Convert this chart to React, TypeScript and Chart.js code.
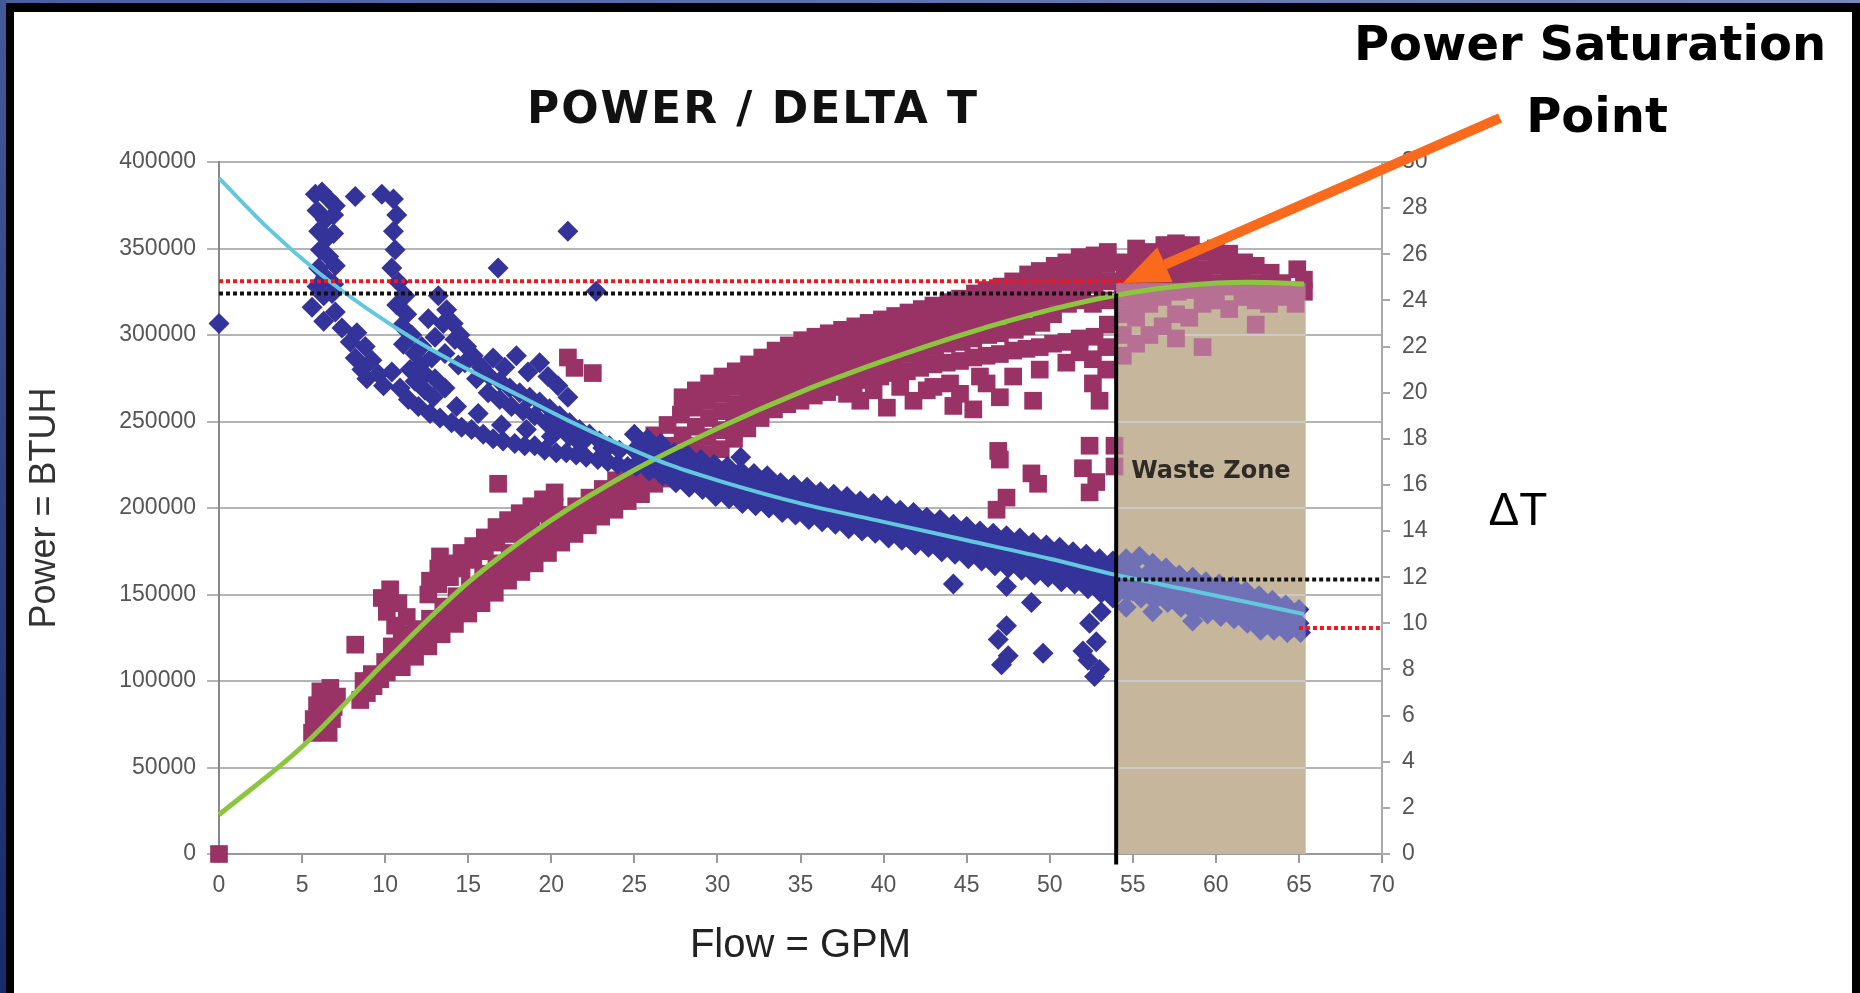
import React, { useEffect, useRef } from "react";
import { Chart, registerables } from "chart.js";

Chart.register(...registerables);

// ---------- tick labels ----------
const flowTicks = [0, 5, 10, 15, 20, 25, 30, 35, 40, 45, 50, 55, 60, 65, 70];
const powerTicks = [0, 50000, 100000, 150000, 200000, 250000, 300000, 350000, 400000];
const deltaTTicks = [0, 2, 4, 6, 8, 10, 12, 14, 16, 18, 20, 22, 24, 26, 28, 30];

// ---------- ΔT measurements (flow GPM, ΔT) ----------
const deltaTPoints = [
  [0, 23.0],
  [5.8, 28.6], [6.2, 28.7], [6.6, 28.4], [7.0, 28.1], [5.9, 27.9], [6.4, 27.5], [6.9, 27.7],
  [6.0, 27.0], [6.5, 26.7], [6.9, 26.9], [6.1, 26.2], [6.6, 25.9], [7.0, 25.5], [6.0, 25.4],
  [6.4, 25.0], [6.9, 24.7], [5.9, 24.6], [6.3, 24.2], [6.8, 24.3], [5.6, 23.7], [6.3, 23.1], [7.0, 23.5],
  [7.4, 22.8], [7.9, 22.2], [8.2, 21.5], [8.6, 21.0], [8.9, 20.6], [8.3, 22.6], [8.8, 22.0], [9.2, 21.4], [9.6, 20.8],
  [8.2, 28.5], [9.8, 28.6], [10.5, 28.4], [10.7, 27.7], [10.5, 27.0], [10.6, 26.2], [10.4, 25.4], [10.8, 24.8],
  [11.2, 24.2], [10.7, 23.8], [11.3, 23.4], [11.0, 22.9], [11.6, 22.5], [11.1, 22.1], [11.8, 21.7], [12.1, 21.2], [12.4, 20.8],
  [11.5, 21.0], [12.2, 22.0], [12.8, 21.5], [12.4, 20.1], [13.0, 20.6], [13.6, 20.2], [11.8, 20.5],
  [9.9, 20.3], [10.4, 20.9], [10.9, 20.2], [11.4, 19.7], [12.0, 19.4], [12.7, 19.1], [13.3, 18.9], [14.0, 18.7],
  [14.6, 18.5], [15.2, 18.4], [15.9, 18.2], [16.5, 18.0], [17.1, 17.9], [17.8, 17.8], [18.4, 17.7], [19.0, 17.7],
  [19.6, 17.5], [20.3, 17.4], [20.9, 17.4], [21.5, 17.3], [22.1, 17.2], [22.8, 17.1], [23.4, 17.0], [24.0, 16.9], [24.6, 16.8],
  [12.9, 19.8], [14.3, 19.4], [15.6, 19.1], [17.0, 18.6], [18.5, 18.4], [20.0, 18.1], [21.6, 17.9], [23.1, 17.6],
  [13.2, 24.2], [13.7, 23.6], [14.1, 23.0], [14.5, 22.5], [14.9, 22.0], [15.3, 21.6], [15.8, 21.1], [16.3, 20.7],
  [16.9, 20.5], [17.5, 20.2], [18.1, 20.0], [18.7, 19.8], [19.3, 19.6], [19.9, 19.3], [20.5, 19.0], [21.1, 18.7],
  [21.7, 18.4], [22.3, 18.2], [22.9, 17.9], [23.5, 17.7], [24.1, 17.5],
  [13.5, 23.0], [14.2, 22.3], [14.8, 21.3], [15.5, 20.6], [16.2, 20.0], [16.9, 19.7], [17.6, 19.4], [18.3, 19.2],
  [19.0, 19.0], [19.7, 18.7], [20.4, 18.4], [21.1, 18.1], [21.8, 17.8],
  [17.9, 21.6], [19.3, 21.3], [19.8, 20.7], [18.6, 20.9], [16.5, 21.5], [12.6, 23.2], [13.0, 22.4], [13.6, 21.7], [14.4, 21.2],
  [20.4, 20.3], [21.0, 19.8], [17.2, 21.1],
  [16.8, 25.4], [21.0, 27.0], [22.7, 24.4],
  [25.0, 18.2], [25.0, 17.5], [25.1, 16.8], [25.8, 18.0], [25.8, 17.3], [25.9, 16.6],
  [26.6, 17.8], [26.5, 17.0], [26.7, 16.4], [27.4, 17.4], [27.3, 16.8], [27.5, 16.1],
  [28.2, 17.3], [28.1, 16.5], [28.3, 15.9], [29.0, 17.1], [29.0, 16.4], [29.1, 15.8],
  [29.8, 16.9], [29.8, 16.2], [29.9, 15.5], [30.6, 16.8], [30.6, 16.0], [30.7, 15.4],
  [31.4, 17.2], [31.4, 16.6], [31.4, 15.9], [31.5, 15.2], [32.2, 16.5], [32.2, 15.8], [32.3, 15.1],
  [33.0, 16.4], [33.0, 15.6], [33.1, 15.0], [33.8, 16.1], [33.8, 15.5], [33.9, 14.8],
  [34.6, 16.0], [34.6, 15.3], [34.7, 14.7], [35.4, 15.9], [35.4, 15.1], [35.5, 14.5],
  [36.2, 15.7], [36.2, 15.0], [36.3, 14.4], [37.0, 15.6], [37.0, 14.9], [37.1, 14.3],
  [37.8, 15.5], [37.8, 14.8], [37.9, 14.1], [38.6, 15.3], [38.6, 14.6], [38.7, 14.0],
  [39.4, 15.2], [39.4, 14.5], [39.5, 13.9], [40.2, 15.1], [40.2, 14.4], [40.3, 13.7],
  [41.0, 14.9], [41.0, 14.2], [41.1, 13.6], [41.8, 14.8], [41.8, 14.1], [41.9, 13.4],
  [42.6, 14.6], [42.6, 13.9], [42.7, 13.3], [43.4, 14.5], [43.4, 13.8], [43.5, 13.1],
  [44.2, 14.3], [44.2, 13.6], [44.3, 13.0], [45.0, 14.2], [45.0, 13.5], [45.1, 12.8],
  [45.8, 14.0], [45.8, 13.3], [45.9, 12.7], [46.6, 13.9], [46.6, 13.2], [46.7, 12.5],
  [47.4, 13.8], [47.4, 13.1], [47.5, 12.4], [48.2, 13.7], [48.2, 13.0], [48.3, 12.3],
  [49.0, 13.5], [49.0, 12.8], [49.1, 12.1], [49.8, 13.4], [49.8, 12.7], [49.9, 12.0],
  [50.6, 13.3], [50.6, 12.5], [50.7, 11.8], [51.4, 13.1], [51.4, 12.4], [51.5, 11.7],
  [52.2, 13.0], [52.2, 12.2], [52.3, 11.5], [53.0, 12.8], [53.0, 12.1], [53.1, 11.3],
  [53.8, 12.7], [53.8, 11.9], [53.8, 11.1],
  [54.6, 12.8], [54.6, 12.0], [54.7, 11.3], [54.6, 10.7], [55.4, 12.9], [55.4, 11.9], [55.5, 11.1],
  [56.2, 12.6], [56.2, 11.7], [56.3, 11.0], [56.2, 10.5], [57.0, 12.4], [57.0, 11.6], [57.1, 10.9],
  [57.8, 12.1], [57.8, 11.4], [57.9, 10.7], [58.6, 12.0], [58.6, 11.2], [58.7, 10.5], [58.6, 10.1],
  [59.4, 11.8], [59.4, 11.1], [59.5, 10.4], [60.2, 11.7], [60.2, 11.0], [60.3, 10.3],
  [61.0, 11.6], [61.0, 10.8], [61.1, 10.2], [61.8, 11.4], [61.8, 10.7], [61.9, 10.0],
  [62.6, 11.2], [62.6, 10.5], [62.7, 9.7], [63.4, 11.0], [63.4, 10.3], [63.5, 9.7],
  [64.2, 10.8], [64.2, 10.1], [64.3, 9.6], [65.0, 10.6], [65.0, 10.0], [65.1, 9.6],
  [25.4, 17.8], [25.4, 17.1], [26.2, 17.6], [26.2, 16.9], [27.0, 17.4], [27.0, 16.6], [27.8, 17.1], [27.8, 16.3],
  [28.6, 16.9], [28.6, 16.2], [29.4, 16.7], [29.4, 16.0], [30.2, 16.5], [30.2, 15.8], [31.0, 16.4], [31.0, 15.6],
  [31.8, 16.2], [31.8, 15.5], [32.6, 16.1], [32.6, 15.4], [33.4, 15.9], [33.4, 15.2], [34.2, 15.8], [34.2, 15.0],
  [35.0, 15.6], [35.0, 14.9], [35.8, 15.5], [35.8, 14.8], [36.6, 15.4], [36.6, 14.6], [37.4, 15.2], [37.4, 14.5],
  [38.2, 15.1], [38.2, 14.4], [39.0, 14.9], [39.0, 14.2], [39.8, 14.8], [39.8, 14.1], [40.6, 14.7], [40.6, 14.0],
  [41.4, 14.5], [41.4, 13.8], [42.2, 14.4], [42.2, 13.7], [43.0, 14.2], [43.0, 13.5], [43.8, 14.1], [43.8, 13.4],
  [44.6, 14.0], [44.6, 13.2], [45.4, 13.8], [45.4, 13.1], [46.2, 13.7], [46.2, 12.9], [47.0, 13.5], [47.0, 12.8],
  [47.8, 13.4], [47.8, 12.7], [48.6, 13.3], [48.6, 12.5], [49.4, 13.1], [49.4, 12.4], [50.2, 13.0], [50.2, 12.3],
  [51.0, 12.8], [51.0, 12.1], [51.8, 12.7], [51.8, 12.0], [52.6, 12.6], [52.6, 11.8], [53.4, 12.4], [53.4, 11.7],
  [54.2, 12.3], [54.2, 11.5], [55.0, 12.3], [55.0, 11.4], [55.8, 12.1], [55.8, 11.3], [56.6, 12.0], [56.6, 11.2],
  [57.4, 11.9], [57.4, 11.1], [58.2, 11.7], [58.2, 10.9], [59.0, 11.5], [59.0, 10.8], [59.8, 11.4], [59.8, 10.7],
  [60.6, 11.3], [60.6, 10.6], [61.4, 11.1], [61.4, 10.4], [62.2, 10.9], [62.2, 10.2], [63.0, 10.8], [63.0, 10.1],
  [63.8, 10.6], [63.8, 9.9], [64.6, 10.4], [64.6, 9.8],
  [44.2, 11.7], [47.4, 11.6], [48.9, 10.9], [47.4, 9.9], [46.9, 9.3], [47.5, 8.6], [47.1, 8.2], [49.6, 8.7],
  [52.4, 10.0], [52.8, 9.2], [52.3, 8.4], [53.0, 8.0], [52.7, 7.7], [52.0, 8.8], [53.1, 10.5],
];

// ---------- Power measurements (flow GPM, BTUH) ----------
const powerPoints = [
  [0, 0],
  [5.6, 70000], [6.1, 72000], [6.6, 70000], [5.7, 78000], [6.2, 80000], [6.8, 78000], [5.9, 86000], [6.4, 88000],
  [6.9, 85000], [6.1, 94000], [6.7, 96000], [7.1, 91000],
  [8.2, 121000], [8.5, 89000], [8.9, 93000], [9.3, 97000], [9.7, 101000], [8.7, 100000], [9.2, 104000], [10.1, 105000],
  [9.8, 148000], [10.3, 153000], [10.1, 140000], [10.8, 145000], [10.6, 132000], [11.1, 127000], [10.4, 120000],
  [11.0, 114000], [11.5, 118000], [10.0, 111000], [11.3, 137000],
  [11.0, 108000], [11.1, 116000], [11.0, 124000], [11.8, 114000], [11.8, 122000], [11.9, 130000],
  [12.6, 120000], [12.6, 128000], [12.7, 136000], [13.4, 127000], [13.4, 135000], [13.5, 143000],
  [14.2, 133000], [14.2, 141000], [14.3, 149000], [15.0, 139000], [15.0, 147000], [15.1, 155000],
  [15.8, 145000], [15.8, 153000], [15.9, 162000], [16.6, 151000], [16.6, 160000], [16.7, 168000],
  [17.4, 158000], [17.4, 166000], [17.5, 174000], [18.2, 163000], [18.2, 171000], [18.3, 180000],
  [19.0, 168000], [19.0, 177000], [19.1, 185000], [19.8, 174000], [19.8, 182000], [19.9, 191000],
  [20.6, 180000], [20.6, 188000], [20.7, 196000], [21.4, 185000], [21.4, 193000], [21.5, 201000],
  [22.2, 190000], [22.2, 198000], [22.3, 206000], [23.0, 195000], [23.0, 203000], [23.1, 211000],
  [23.8, 199000], [23.8, 207000], [23.9, 216000], [24.6, 204000], [24.6, 212000], [24.7, 221000],
  [25.4, 208000], [25.4, 216000], [25.5, 225000],
  [12.6, 150000], [12.7, 158000], [13.2, 156000], [13.2, 165000], [13.3, 172000], [13.9, 160000], [13.9, 168000],
  [14.6, 165000], [14.6, 174000], [15.3, 170000], [15.3, 178000], [16.0, 175000], [16.0, 183000],
  [16.7, 180000], [16.7, 189000], [17.4, 185000], [17.4, 193000], [18.1, 189000], [18.1, 197000],
  [18.8, 193000], [18.8, 201000], [19.5, 197000], [19.5, 205000], [20.2, 201000], [20.2, 209000],
  [16.8, 214000], [21.0, 287000], [21.4, 281000], [22.5, 278000],
  [26.2, 214000], [26.2, 222000], [26.3, 231000], [26.2, 242000],
  [27.0, 217000], [27.0, 226000], [27.1, 236000], [27.0, 248000],
  [27.8, 221000], [27.8, 231000], [27.9, 242000], [27.8, 254000], [27.9, 264000],
  [28.6, 226000], [28.6, 236000], [28.7, 247000], [28.6, 258000], [28.7, 268000],
  [29.4, 231000], [29.4, 241000], [29.5, 252000], [29.4, 262000], [29.5, 272000],
  [30.2, 234000], [30.2, 245000], [30.3, 256000], [30.2, 266000], [30.3, 276000],
  [31.0, 240000], [31.0, 250000], [31.1, 260000], [31.0, 270000], [31.1, 279000],
  [31.8, 246000], [31.8, 256000], [31.9, 265000], [31.8, 274000], [31.9, 283000],
  [32.6, 252000], [32.6, 261000], [32.7, 270000], [32.6, 279000], [32.7, 287000],
  [33.4, 257000], [33.4, 266000], [33.5, 275000], [33.4, 283000], [33.5, 291000],
  [34.2, 260000], [34.2, 269000], [34.3, 278000], [34.2, 287000], [34.3, 294000],
  [35.0, 262000], [35.0, 272000], [35.1, 281000], [35.0, 290000], [35.1, 297000],
  [35.8, 265000], [35.8, 275000], [35.9, 284000], [35.8, 292000], [35.9, 299000],
  [36.6, 267000], [36.6, 277000], [36.7, 286000], [36.6, 294000], [36.7, 301000],
  [37.4, 270000], [37.4, 279000], [37.5, 288000], [37.4, 296000], [37.5, 303000],
  [38.2, 272000], [38.2, 281000], [38.3, 290000], [38.2, 298000], [38.3, 305000],
  [39.0, 274000], [39.0, 283000], [39.1, 292000], [39.0, 300000], [39.1, 307000],
  [39.8, 276000], [39.8, 285000], [39.9, 294000], [39.8, 302000], [39.9, 309000],
  [40.6, 278000], [40.6, 287000], [40.7, 296000], [40.6, 304000], [40.7, 311000],
  [41.4, 279000], [41.4, 289000], [41.5, 298000], [41.4, 306000], [41.5, 313000],
  [42.2, 281000], [42.2, 291000], [42.3, 300000], [42.2, 308000], [42.3, 315000],
  [43.0, 270000], [43.0, 283000], [43.1, 293000], [43.0, 302000], [43.1, 310000], [43.0, 317000],
  [43.8, 284000], [43.8, 295000], [43.9, 304000], [43.8, 312000], [43.9, 319000],
  [44.6, 266000], [44.6, 285000], [44.7, 296000], [44.6, 306000], [44.7, 314000], [44.6, 321000],
  [45.4, 287000], [45.4, 298000], [45.5, 308000], [45.4, 316000], [45.5, 324000],
  [46.2, 272000], [46.2, 288000], [46.3, 300000], [46.2, 310000], [46.3, 318000], [46.2, 326000],
  [47.0, 289000], [47.0, 301000], [47.1, 312000], [47.0, 320000], [47.1, 328000],
  [47.8, 276000], [47.8, 291000], [47.9, 303000], [47.8, 314000], [47.9, 323000], [47.8, 331000],
  [48.6, 292000], [48.6, 305000], [48.7, 316000], [48.6, 326000], [48.7, 335000],
  [49.4, 280000], [49.4, 293000], [49.5, 307000], [49.4, 318000], [49.5, 328000], [49.4, 337000],
  [50.2, 295000], [50.2, 312000], [50.3, 322000], [50.2, 331000], [50.3, 340000],
  [51.0, 284000], [51.0, 296000], [51.1, 318000], [51.0, 328000], [51.1, 335000], [51.0, 342000],
  [51.8, 290000], [51.8, 298000], [51.9, 320000], [51.8, 330000], [51.9, 338000], [51.8, 345000],
  [52.6, 272000], [52.6, 286000], [52.7, 299000], [52.6, 318000], [52.7, 329000], [52.6, 339000], [52.7, 346000],
  [53.4, 280000], [53.4, 293000], [53.5, 306000], [53.4, 320000], [53.5, 331000], [53.4, 341000], [53.5, 348000],
  [36.2, 268000], [37.8, 266000], [39.4, 268000], [41.0, 270000], [42.6, 268000], [44.0, 272000], [45.8, 276000],
  [38.6, 262000], [41.8, 262000], [40.2, 258000],
  [46.9, 233000], [47.4, 206000], [49.3, 214000], [52.4, 236000], [52.0, 223000], [52.4, 209000], [46.8, 199000],
  [45.4, 257000], [47.0, 228000], [48.9, 220000], [53.0, 262000], [52.8, 215000], [47.0, 264000], [49.0, 262000],
  [44.2, 259000], [53.9, 236000], [53.9, 224000],
  [54.4, 288000], [54.4, 300000], [54.5, 312000], [54.4, 322000], [54.5, 332000], [54.4, 342000],
  [55.2, 295000], [55.2, 310000], [55.3, 320000], [55.2, 330000], [55.3, 340000], [55.2, 350000],
  [56.0, 300000], [56.0, 318000], [56.1, 328000], [56.0, 338000], [56.1, 348000],
  [56.8, 305000], [56.8, 322000], [56.9, 333000], [56.8, 343000], [56.9, 352000],
  [57.6, 298000], [57.6, 312000], [57.7, 325000], [57.6, 335000], [57.7, 345000], [57.6, 353000],
  [58.4, 310000], [58.4, 326000], [58.5, 336000], [58.4, 346000], [58.5, 352000],
  [59.2, 293000], [59.2, 318000], [59.3, 328000], [59.2, 338000], [59.3, 348000],
  [60.0, 320000], [60.0, 330000], [60.1, 340000], [60.0, 350000],
  [60.8, 315000], [60.8, 328000], [60.9, 338000], [60.8, 347000],
  [61.6, 322000], [61.6, 332000], [61.7, 342000],
  [62.4, 306000], [62.4, 320000], [62.5, 330000], [62.4, 340000],
  [63.2, 318000], [63.2, 327000], [63.3, 336000],
  [64.0, 322000], [64.0, 330000],
  [64.8, 318000], [64.8, 326000], [64.9, 338000],
  [65.3, 325000], [65.3, 332000],
];

// ---------- trend lines ----------
const deltaTTrendFlow = [0, 3, 6, 9, 12, 15, 18, 21, 24, 27, 30, 35, 40, 45, 50, 54, 58, 62, 65.3];
const deltaTTrendValues = [29.3, 27.1, 25.2, 23.6, 22.2, 21.0, 19.9, 18.8, 17.8, 16.9, 16.2, 15.2, 14.4, 13.6, 12.8, 12.1, 11.5, 10.9, 10.4];
const powerTrendFlow = [0, 5, 10, 15, 20, 25, 30, 35, 40, 45, 50, 54, 58, 62, 65.3];
const powerTrendValues = [22700, 62000, 111000, 157000, 193000, 222000, 246000, 267000, 285000, 301000, 314500, 323000, 328500, 330500, 329500];

// ---------- reference / marker lines ----------
const saturationRedFlow = [0, 55.5];
const saturationRedPower = [331000, 331000];
const saturationBlackFlow = [0, 54];
const saturationBlackPower = [324000, 324000];
const wasteBlackFlow = [54, 70];
const wasteBlackDeltaT = [11.9, 11.9];
const wasteRedFlow = [65, 70];
const wasteRedDeltaT = [9.8, 9.8];
const markerFlow = [54, 54];
const markerPower = [-6000, 324000];

const wasteZoneFlow = [54, 65.4];
const wasteZonePower = [0, 330000];
const arrowTip = [54.4, 330000];

const toXY = (xs: number[], ys: number[]) => xs.map((x, i) => ({ x, y: ys[i] }));
const pairs = (p: number[][]) => p.map(([x, y]) => ({ x, y }));

const SANS = '"Liberation Sans", Arial, sans-serif';
const WIDE = '"DejaVu Sans", sans-serif';

export default function App() {
  const ref = useRef<HTMLCanvasElement>(null);

  useEffect(() => {
    document.body.style.margin = "0";
    const canvas = ref.current;
    if (!canvas) return;

    const datasets: any[] = [
      { label: "Power trend", data: toXY(powerTrendFlow, powerTrendValues), yAxisID: "y", showLine: true,
        borderColor: "#8cc63f", borderWidth: 5, pointRadius: 0, cubicInterpolationMode: "monotone", order: 2, clip: false },
      { label: "ΔT trend", data: toXY(deltaTTrendFlow, deltaTTrendValues), yAxisID: "y1", showLine: true,
        borderColor: "#63c8de", borderWidth: 4, pointRadius: 0, cubicInterpolationMode: "monotone", order: 1, clip: false },
      { label: "sat red", data: toXY(saturationRedFlow, saturationRedPower), yAxisID: "y", showLine: true,
        borderColor: "#f0161c", borderWidth: 4, borderDash: [4, 3], pointRadius: 0, order: 0, clip: false },
      { label: "sat black", data: toXY(saturationBlackFlow, saturationBlackPower), yAxisID: "y", showLine: true,
        borderColor: "#111", borderWidth: 4, borderDash: [4, 3], pointRadius: 0, order: 0, clip: false },
      { label: "waste black", data: toXY(wasteBlackFlow, wasteBlackDeltaT), yAxisID: "y1", showLine: true,
        borderColor: "#111", borderWidth: 4, borderDash: [4, 3], pointRadius: 0, order: 0, clip: false },
      { label: "waste red", data: toXY(wasteRedFlow, wasteRedDeltaT), yAxisID: "y1", showLine: true,
        borderColor: "#f0161c", borderWidth: 4, borderDash: [4, 3], pointRadius: 0, order: 0, clip: false },
      { label: "marker", data: toXY(markerFlow, markerPower), yAxisID: "y", showLine: true,
        borderColor: "#000", borderWidth: 4, pointRadius: 0, order: 0, clip: false },
      { label: "ΔT", data: pairs(deltaTPoints), yAxisID: "y1", pointStyle: "rectRot", pointRadius: 10.5,
        backgroundColor: "#333399", borderWidth: 0, order: 10, clip: false },
      { label: "Power", data: pairs(powerPoints), yAxisID: "y", pointStyle: "rect", pointRadius: 12.5,
        backgroundColor: "#993366", borderWidth: 0, order: 11, clip: false },
    ];
    const DIAMOND_INDEX = 7;

    const decor = {
      id: "decor",
      beforeDraw(chart: any) {
        const { ctx, width, height } = chart;
        ctx.save();
        ctx.fillStyle = "#000";
        ctx.fillRect(0, 0, width, height);
        const g1 = ctx.createLinearGradient(0, 0, width, 0);
        g1.addColorStop(0, "#4b5f9e");
        g1.addColorStop(1, "#7888ba");
        ctx.fillStyle = g1;
        ctx.fillRect(0, 0, width, 3);
        const g2 = ctx.createLinearGradient(0, 0, 0, height);
        g2.addColorStop(0, "#43599a");
        g2.addColorStop(1, "#172a6b");
        ctx.fillStyle = g2;
        ctx.fillRect(0, 0, 6, height);
        ctx.fillStyle = "#ffffff";
        ctx.fillRect(14, 12, 1852 - 14, height - 12);
        const xs = chart.scales.x, ys = chart.scales.y;
        const x0 = xs.getPixelForValue(wasteZoneFlow[0]);
        const x1 = xs.getPixelForValue(wasteZoneFlow[1]);
        const yb = ys.getPixelForValue(wasteZonePower[0]);
        const yt = ys.getPixelForValue(wasteZonePower[1]);
        ctx.fillStyle = "#ac9772";
        ctx.fillRect(x0, yt, x1 - x0, yb - yt);
        ctx.restore();
      },
      afterDatasetDraw(chart: any, args: any) {
        if (args.index !== DIAMOND_INDEX) return;
        const { ctx } = chart;
        const xs = chart.scales.x, ys = chart.scales.y;
        const x0 = xs.getPixelForValue(wasteZoneFlow[0]);
        const x1 = xs.getPixelForValue(wasteZoneFlow[1]);
        const yb = ys.getPixelForValue(wasteZonePower[0]);
        const yt = ys.getPixelForValue(wasteZonePower[1]);
        ctx.save();
        ctx.fillStyle = "rgba(255,255,255,0.3)";
        ctx.fillRect(x0, yt, x1 - x0, yb - yt);
        ctx.restore();
      },
      afterDraw(chart: any) {
        const { ctx } = chart;
        const xs = chart.scales.x, ys = chart.scales.y;
        ctx.save();
        ctx.fillStyle = "#111";
        ctx.textAlign = "center";
        ctx.textBaseline = "alphabetic";
        ctx.font = `bold 44px ${WIDE}`;
        try { (ctx as any).letterSpacing = "2px"; } catch (e) {}
        ctx.fillText("POWER / DELTA T", 753, 123);
        try { (ctx as any).letterSpacing = "0px"; } catch (e) {}
        ctx.fillStyle = "#000";
        ctx.font = `bold 48px ${WIDE}`;
        ctx.fillText("Power Saturation", 1590, 60);
        ctx.fillText("Point", 1597, 132);
        ctx.font = `46px ${SANS}`;
        ctx.fillText("ΔT", 1518, 525);
        ctx.fillStyle = "#2e2a26";
        ctx.font = `bold 24px ${WIDE}`;
        ctx.textBaseline = "middle";
        const zx = (xs.getPixelForValue(wasteZoneFlow[0]) + xs.getPixelForValue(wasteZoneFlow[1])) / 2;
        ctx.fillText("Waste Zone", zx, ys.getPixelForValue(221000));
        const tipX = xs.getPixelForValue(arrowTip[0]);
        const tipY = ys.getPixelForValue(arrowTip[1]);
        const tailX = 1500, tailY = 118;
        const ang = Math.atan2(tipY - tailY, tipX - tailX);
        const headLen = 46, headW = 19;
        const bx = tipX - headLen * Math.cos(ang);
        const by = tipY - headLen * Math.sin(ang);
        ctx.strokeStyle = "#fa6a1c";
        ctx.fillStyle = "#fa6a1c";
        ctx.lineWidth = 10;
        ctx.beginPath();
        ctx.moveTo(tailX, tailY);
        ctx.lineTo(bx, by);
        ctx.stroke();
        ctx.beginPath();
        ctx.moveTo(tipX, tipY);
        ctx.lineTo(bx + headW * Math.sin(ang), by - headW * Math.cos(ang));
        ctx.lineTo(bx - headW * Math.sin(ang), by + headW * Math.cos(ang));
        ctx.closePath();
        ctx.fill();
        ctx.restore();
      },
    };

    const tickFont = { family: SANS, size: 23 };
    const chart = new Chart(canvas, {
      type: "scatter",
      data: { datasets },
      options: {
        responsive: false,
        animation: false,
        events: [],
        devicePixelRatio: 1,
        layout: { padding: { top: 162, left: 0, right: 0, bottom: 0 } },
        plugins: { legend: { display: false }, tooltip: { enabled: false } },
        scales: {
          x: {
            type: "linear", min: 0, max: 70,
            afterBuildTicks: (s: any) => { s.ticks = flowTicks.map((v) => ({ value: v })); },
            ticks: { color: "#555", font: tickFont, padding: 9, maxRotation: 0, autoSkip: false, callback: (v: any) => String(v) },
            grid: { drawOnChartArea: false, drawTicks: true, tickLength: 9, tickColor: "#999", lineWidth: 2 },
            border: { color: "#999", width: 2 },
            title: { display: true, text: "Flow = GPM", color: "#222", font: { family: SANS, size: 40 }, padding: { top: 0, bottom: 23 } },
            afterFit: (s: any) => { s.height = 139; },
          },
          y: {
            type: "linear", position: "left", min: 0, max: 400000,
            afterBuildTicks: (s: any) => { s.ticks = powerTicks.map((v) => ({ value: v })); },
            ticks: { color: "#555", font: tickFont, padding: 11, autoSkip: false, callback: (v: any) => String(v) },
            grid: { color: "#b4b4b4", lineWidth: 2, tickLength: 12, tickColor: "#b4b4b4" },
            border: { color: "#888", width: 2 },
            title: { display: true, text: "Power = BTUH", color: "#333", font: { family: SANS, size: 36 }, padding: { top: 23, bottom: 0 } },
            afterFit: (s: any) => { s.width = 219; },
          },
          y1: {
            type: "linear", position: "right", min: 0, max: 30,
            afterBuildTicks: (s: any) => { s.ticks = deltaTTicks.map((v) => ({ value: v })); },
            ticks: { color: "#555", font: tickFont, padding: 12, autoSkip: false, callback: (v: any) => String(v) },
            grid: { drawOnChartArea: false, tickLength: 8, tickColor: "#aaa", lineWidth: 2 },
            border: { color: "#aaa", width: 2 },
            afterFit: (s: any) => { s.width = 478; },
          },
        },
      } as any,
      plugins: [decor],
    });
    return () => chart.destroy();
  }, []);

  return (
    <div style={{ position: "fixed", left: 0, top: 0, width: 1860, height: 993 }}>
      <canvas ref={ref} width={1860} height={993} style={{ display: "block", width: 1860, height: 993 }} />
    </div>
  );
}
